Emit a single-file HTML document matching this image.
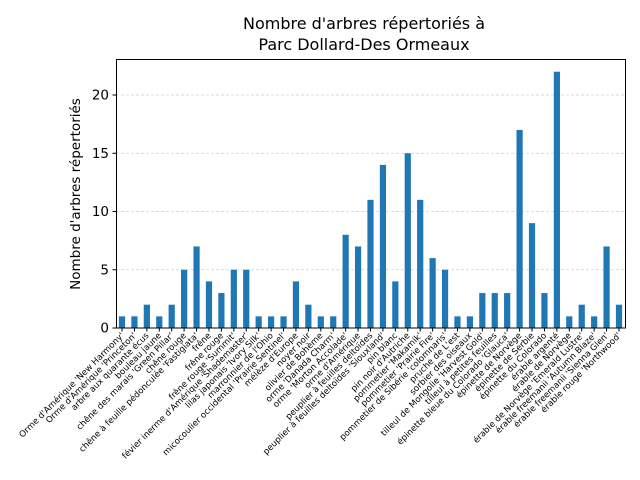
<!DOCTYPE html>
<html><head><meta charset="utf-8"><style>
body{margin:0;background:#fff;}
svg{display:block;font-family:"DejaVu Sans","Liberation Sans",sans-serif;}
</style></head><body>
<svg id="s" width="640" height="480" xmlns="http://www.w3.org/2000/svg">
<rect width="640" height="480" fill="#fff"/>
<text x="364" y="29" font-size="16" text-anchor="middle">Nombre d'arbres répertoriés à</text>
<text x="364" y="50" font-size="16" text-anchor="middle">Parc Dollard-Des Ormeaux</text>
<text transform="translate(80,194) rotate(-90)" font-size="13.5" text-anchor="middle">Nombre d'arbres répertoriés</text>
<g id="g"></g>
<rect x="116.5" y="59.5" width="509" height="268.5" fill="none" stroke="#000" stroke-width="1"/>
</svg>
<script>
var vals=[1,1,2,1,2,5,7,4,3,5,5,1,1,1,4,2,1,1,8,7,11,14,4,15,11,6,5,1,1,3,3,3,17,9,3,22,1,2,1,7,2];
var labs=["Orme d'Amérique 'New Harmony'","Orme d'Amérique 'Princeton'","arbre aux quarante écus","bouleau jaune","chêne des marais 'Green Pillar'","chêne rouge","chêne à feuille pédonculée 'Fastigiata'","frêne","frêne rouge","frêne rouge 'Summit'","févier inerme d'Amérique 'Shademaster'","lilas japonais 'Ivory Silk'","marronnier de l'Ohio","micocoulier occidental 'Prairie Sentinel'","mélèze d'Europe","noyer noir","olivier de Bohème","orme 'Danada Charm'","orme 'Morton Accolade'","orme d'Amérique","peuplier à feuilles deltoïdes","peuplier à feuilles deltoïdes 'Siouxland'","pin blanc","pin noir d'Autriche","pommetier 'Makamik'","pommetier 'Prairie Fire'","pommetier de Sibérie 'colomnaris'","pruche de L'est","sorbier des oiseaux","tilleul de Mongolie 'Harvest Gold'","tilleul à petites feuilles","épinette bleue du Colorado 'Glauca'","épinette de Norvège","épinette de Serbie","épinette du Colorado","érable argenté","érable de Norvège","érable de Norvège 'Emerald Lustre'","érable freemanii 'Autumn Blaze'","érable freemanii 'Sienna Glen'","érable rouge 'Northwood'"];
var h='',y0=328,k=11.65;
for(var t=0;t<=20;t+=5){var y=y0-t*k;
 if(t>0)h+='<line x1="116" x2="625" y1="'+y+'" y2="'+y+'" stroke="#d0d0d0" stroke-width="0.8" stroke-dasharray="3,2"/>';
 h+='<line x1="112.5" x2="116" y1="'+y+'" y2="'+y+'" stroke="#000"/>';
 h+='<text x="109" y="'+(y+4.5)+'" font-size="13.5" text-anchor="end">'+t+'</text>';}
for(var i=0;i<41;i++){var x=122+12.425*i;
 h+='<rect x="'+(x-3.1)+'" y="'+(y0-vals[i]*k)+'" width="6.2" height="'+(vals[i]*k)+'" fill="#1f77b4"/>';
 h+='<line x1="'+x+'" x2="'+x+'" y1="328" y2="331.5" stroke="#000"/>';
 h+='<text transform="translate('+(x+2.5)+',336) rotate(-45)" font-size="8.6" text-anchor="end">'+labs[i]+'</text>';}
document.getElementById('g').innerHTML=h;
</script>
</body></html>
